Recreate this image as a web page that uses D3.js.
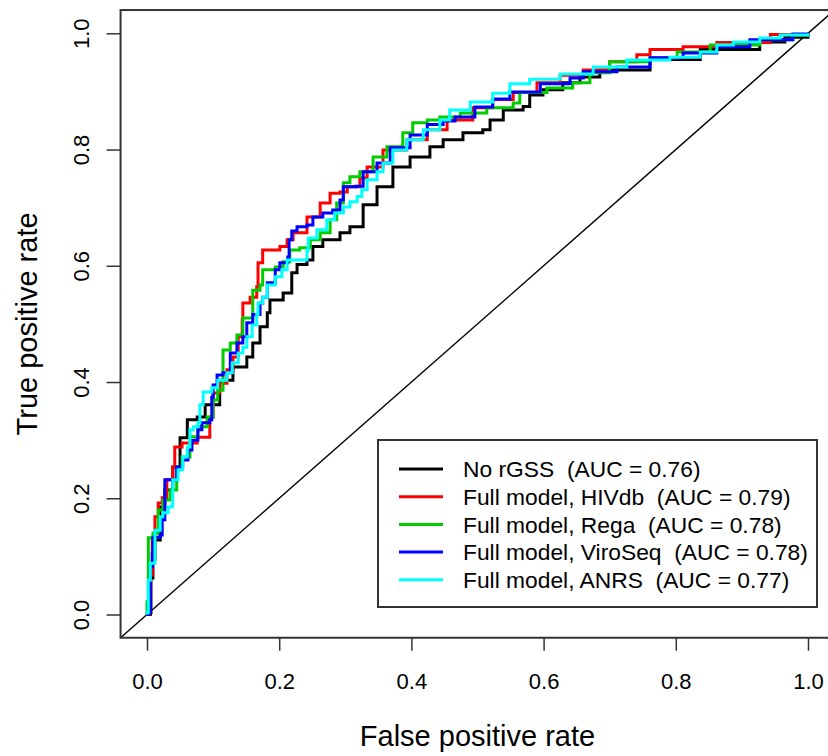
<!DOCTYPE html>
<html>
<head>
<meta charset="utf-8">
<script src="https://cdn.jsdelivr.net/npm/d3@7.9.0/dist/d3.min.js"></script>
<style>
  html, body { margin: 0; padding: 0; background: #fff; }
  svg { display: block; font-family: "Liberation Sans", Arial, sans-serif; }
</style>
</head>
<body>
<svg id="chart" width="828" height="756"></svg>
<script>
// ROC points: [false positive rate, true positive rate]
const noRgss = [
  [0, 0], [0.005, 0.003], [0.006, 0.063], [0.009, 0.094], [0.012, 0.128], [0.020, 0.185],
  [0.027, 0.214], [0.039, 0.254], [0.050, 0.304], [0.061, 0.335], [0.076, 0.340], [0.088, 0.361],
  [0.110, 0.403], [0.130, 0.426], [0.151, 0.443], [0.160, 0.467], [0.171, 0.495], [0.182, 0.519],
  [0.186, 0.541], [0.206, 0.553], [0.219, 0.588], [0.227, 0.602], [0.242, 0.610], [0.251, 0.633],
  [0.266, 0.645], [0.292, 0.657], [0.307, 0.667], [0.327, 0.705], [0.348, 0.736], [0.372, 0.770],
  [0.398, 0.787], [0.428, 0.805], [0.448, 0.817], [0.478, 0.829], [0.508, 0.834], [0.519, 0.851],
  [0.539, 0.868], [0.569, 0.874], [0.579, 0.894], [0.599, 0.903], [0.629, 0.915], [0.655, 0.925],
  [0.685, 0.937], [0.761, 0.955], [0.837, 0.972], [0.927, 0.985], [0.965, 0.993], [1, 1]
];

const hivdb = [
  [0, 0], [0.003, 0.042], [0.005, 0.068], [0.008, 0.128], [0.012, 0.168], [0.017, 0.192],
  [0.023, 0.201], [0.030, 0.232], [0.039, 0.254], [0.042, 0.288], [0.053, 0.295], [0.076, 0.305],
  [0.095, 0.340], [0.100, 0.381], [0.110, 0.398], [0.121, 0.421], [0.130, 0.443], [0.138, 0.478],
  [0.144, 0.507], [0.145, 0.536], [0.156, 0.546], [0.166, 0.564], [0.168, 0.605], [0.175, 0.627],
  [0.201, 0.633], [0.212, 0.645], [0.221, 0.657], [0.242, 0.684], [0.262, 0.708], [0.277, 0.725],
  [0.292, 0.727], [0.303, 0.736], [0.322, 0.751], [0.333, 0.770], [0.357, 0.799], [0.393, 0.817],
  [0.424, 0.834], [0.454, 0.851], [0.493, 0.872], [0.523, 0.886], [0.554, 0.898], [0.590, 0.915],
  [0.625, 0.928], [0.660, 0.937], [0.700, 0.951], [0.741, 0.963], [0.761, 0.972], [0.811, 0.977],
  [0.862, 0.984], [0.943, 0.998], [1, 1]
];

const rega = [
  [0, 0], [0, 0.022], [0.002, 0.132], [0.009, 0.140], [0.017, 0.180], [0.024, 0.197],
  [0.035, 0.214], [0.045, 0.254], [0.053, 0.271], [0.065, 0.306], [0.077, 0.323], [0.091, 0.340],
  [0.100, 0.369], [0.107, 0.386], [0.115, 0.455], [0.126, 0.467], [0.136, 0.481], [0.145, 0.510],
  [0.160, 0.529], [0.160, 0.558], [0.171, 0.567], [0.175, 0.593], [0.194, 0.598], [0.206, 0.607],
  [0.216, 0.627], [0.231, 0.631], [0.247, 0.645], [0.262, 0.657], [0.277, 0.679], [0.287, 0.708],
  [0.297, 0.743], [0.307, 0.753], [0.322, 0.762], [0.342, 0.787], [0.363, 0.805], [0.387, 0.829],
  [0.402, 0.846], [0.424, 0.851], [0.443, 0.856], [0.474, 0.863], [0.514, 0.872], [0.554, 0.880],
  [0.564, 0.898], [0.605, 0.906], [0.644, 0.915], [0.670, 0.932], [0.700, 0.951], [0.761, 0.958],
  [0.802, 0.968], [0.852, 0.980], [0.927, 0.989], [0.977, 0.997], [1, 1]
];

const viroseq = [
  [0, 0], [0.002, 0.003], [0.005, 0.082], [0.008, 0.106], [0.009, 0.133], [0.020, 0.137],
  [0.023, 0.163], [0.027, 0.192], [0.027, 0.232], [0.038, 0.232], [0.045, 0.254], [0.054, 0.266],
  [0.062, 0.283], [0.068, 0.300], [0.077, 0.318], [0.083, 0.330], [0.095, 0.335], [0.098, 0.374],
  [0.100, 0.395], [0.106, 0.412], [0.115, 0.416], [0.126, 0.450], [0.136, 0.467], [0.145, 0.478],
  [0.151, 0.502], [0.160, 0.516], [0.171, 0.536], [0.175, 0.546], [0.182, 0.571], [0.194, 0.593],
  [0.201, 0.605], [0.213, 0.615], [0.215, 0.645], [0.219, 0.660], [0.227, 0.667], [0.242, 0.670],
  [0.251, 0.684], [0.266, 0.691], [0.281, 0.696], [0.292, 0.713], [0.297, 0.736], [0.316, 0.737],
  [0.327, 0.762], [0.348, 0.777], [0.368, 0.803], [0.398, 0.825], [0.424, 0.843], [0.448, 0.849],
  [0.466, 0.856], [0.496, 0.873], [0.523, 0.887], [0.549, 0.899], [0.595, 0.913], [0.640, 0.923],
  [0.660, 0.934], [0.711, 0.942], [0.761, 0.958], [0.811, 0.966], [0.862, 0.977], [0.912, 0.989],
  [0.977, 0.999], [1, 1]
];

const anrs = [
  [0, 0], [0, 0.003], [0.002, 0.059], [0.005, 0.088], [0.012, 0.094], [0.012, 0.145],
  [0.020, 0.168], [0.024, 0.175], [0.032, 0.185], [0.038, 0.188], [0.039, 0.232], [0.047, 0.249],
  [0.054, 0.271], [0.061, 0.288], [0.065, 0.318], [0.070, 0.323], [0.077, 0.330], [0.080, 0.361],
  [0.085, 0.383], [0.098, 0.390], [0.107, 0.403], [0.121, 0.416], [0.129, 0.433], [0.138, 0.450],
  [0.145, 0.460], [0.151, 0.478], [0.159, 0.498], [0.166, 0.516], [0.168, 0.536], [0.175, 0.546],
  [0.182, 0.567], [0.194, 0.581], [0.204, 0.593], [0.212, 0.610], [0.239, 0.610], [0.242, 0.627],
  [0.244, 0.648], [0.257, 0.662], [0.272, 0.679], [0.284, 0.691], [0.297, 0.701], [0.307, 0.710],
  [0.318, 0.719], [0.325, 0.731], [0.333, 0.748], [0.348, 0.762], [0.357, 0.777], [0.372, 0.799],
  [0.393, 0.817], [0.418, 0.834], [0.443, 0.851], [0.458, 0.868], [0.489, 0.882], [0.523, 0.897],
  [0.549, 0.913], [0.579, 0.921], [0.625, 0.930], [0.675, 0.942], [0.726, 0.954], [0.791, 0.959],
  [0.837, 0.968], [0.862, 0.980], [0.887, 0.985], [0.927, 0.992], [0.958, 0.997], [1, 1]
];

const seriesNames = [
  "No rGSS  (AUC = 0.76)",
  "Full model, HIVdb  (AUC = 0.79)",
  "Full model, Rega  (AUC = 0.78)",
  "Full model, ViroSeq  (AUC = 0.78)",
  "Full model, ANRS  (AUC = 0.77)"
];
const seriesColors = ["#000000", "#ff0000", "#00cd00", "#0000ff", "#00ffff"];
const seriesData = [noRgss, hivdb, rega, viroseq, anrs];
const tickValues = [0, 0.2, 0.4, 0.6, 0.8, 1.0];

const svg = d3.select("#chart");

// R style: data range padded by 4% on each side
const x = d3.scaleLinear().domain([0, 1]).range([147, 808]);
const y = d3.scaleLinear().domain([0, 1]).range([614.5, 33.3]);
const plotLeft = x(-0.04), plotRight = x(1.04), plotTop = y(1.04), plotBottom = y(-0.04);

svg.append("clipPath").attr("id", "plot-clip")
  .append("rect")
  .attr("x", plotLeft).attr("y", plotTop)
  .attr("width", plotRight - plotLeft).attr("height", plotBottom - plotTop);

const plot = svg.append("g").attr("clip-path", "url(#plot-clip)");

// chance diagonal across the whole plot region
plot.append("line")
  .attr("x1", x(-0.04)).attr("y1", y(-0.04))
  .attr("x2", x(1.04)).attr("y2", y(1.04))
  .attr("stroke", "#000").attr("stroke-width", 1.4);

const line = d3.line()
  .x((d) => x(d[0]))
  .y((d) => y(d[1]))
  .curve(d3.curveStepAfter);

seriesData.forEach((data, i) => {
  plot.append("path")
    .datum(data)
    .attr("d", line)
    .attr("fill", "none")
    .attr("stroke", seriesColors[i])
    .attr("stroke-width", 3)
    .attr("stroke-linejoin", "miter");
});

// box
svg.append("rect")
  .attr("x", plotLeft).attr("y", plotTop)
  .attr("width", plotRight - plotLeft).attr("height", plotBottom - plotTop)
  .attr("fill", "none").attr("stroke", "#333").attr("stroke-width", 2);

// x axis
const xAxis = svg.append("g")
  .attr("transform", `translate(0,${plotBottom})`)
  .call(d3.axisBottom(x).tickValues(tickValues).tickFormat(d3.format(".1f"))
    .tickSize(13).tickPadding(23));
xAxis.select(".domain").remove();
xAxis.selectAll(".tick line").attr("stroke", "#333").attr("stroke-width", 1.5);
xAxis.selectAll(".tick text")
  .attr("font-size", 22).attr("fill", "#000")
  .attr("font-family", "Liberation Sans, Arial, sans-serif");

// y axis (rotated labels, R style)
const yAxis = svg.append("g")
  .attr("transform", `translate(${plotLeft},0)`)
  .call(d3.axisLeft(y).tickValues(tickValues).tickFormat(d3.format(".1f")).tickSize(14));
yAxis.select(".domain").remove();
yAxis.selectAll(".tick line").attr("stroke", "#333").attr("stroke-width", 1.5);
yAxis.selectAll(".tick text").remove();
yAxis.selectAll(".tick").append("text")
  .attr("transform", `translate(${89 - plotLeft},0) rotate(-90)`)
  .attr("text-anchor", "middle")
  .attr("font-size", 22)
  .attr("fill", "#000")
  .text((d) => d3.format(".1f")(d));

// axis titles
svg.append("text")
  .attr("x", (plotLeft + plotRight) / 2).attr("y", 746)
  .attr("text-anchor", "middle").attr("font-size", 29)
  .text("False positive rate");

svg.append("text")
  .attr("transform", `translate(37,${(plotTop + plotBottom) / 2}) rotate(-90)`)
  .attr("text-anchor", "middle").attr("font-size", 29)
  .text("True positive rate");

// legend
const legend = svg.append("g");
legend.append("rect")
  .attr("x", 378).attr("y", 440).attr("width", 439).attr("height", 167)
  .attr("fill", "#fff").attr("stroke", "#333").attr("stroke-width", 2);

const rows = legend.selectAll("g.row")
  .data(seriesNames)
  .join("g")
  .attr("class", "row")
  .attr("transform", (d, i) => `translate(0,${469 + i * 27.7})`);

rows.append("line")
  .attr("x1", 399).attr("x2", 443)
  .attr("stroke", (d, i) => seriesColors[i])
  .attr("stroke-width", 3);

rows.append("text")
  .attr("x", 463).attr("dy", "0.36em")
  .attr("font-size", 22.8).attr("fill", "#000")
  .style("white-space", "pre")
  .text((d) => d);
</script>
</body>
</html>
